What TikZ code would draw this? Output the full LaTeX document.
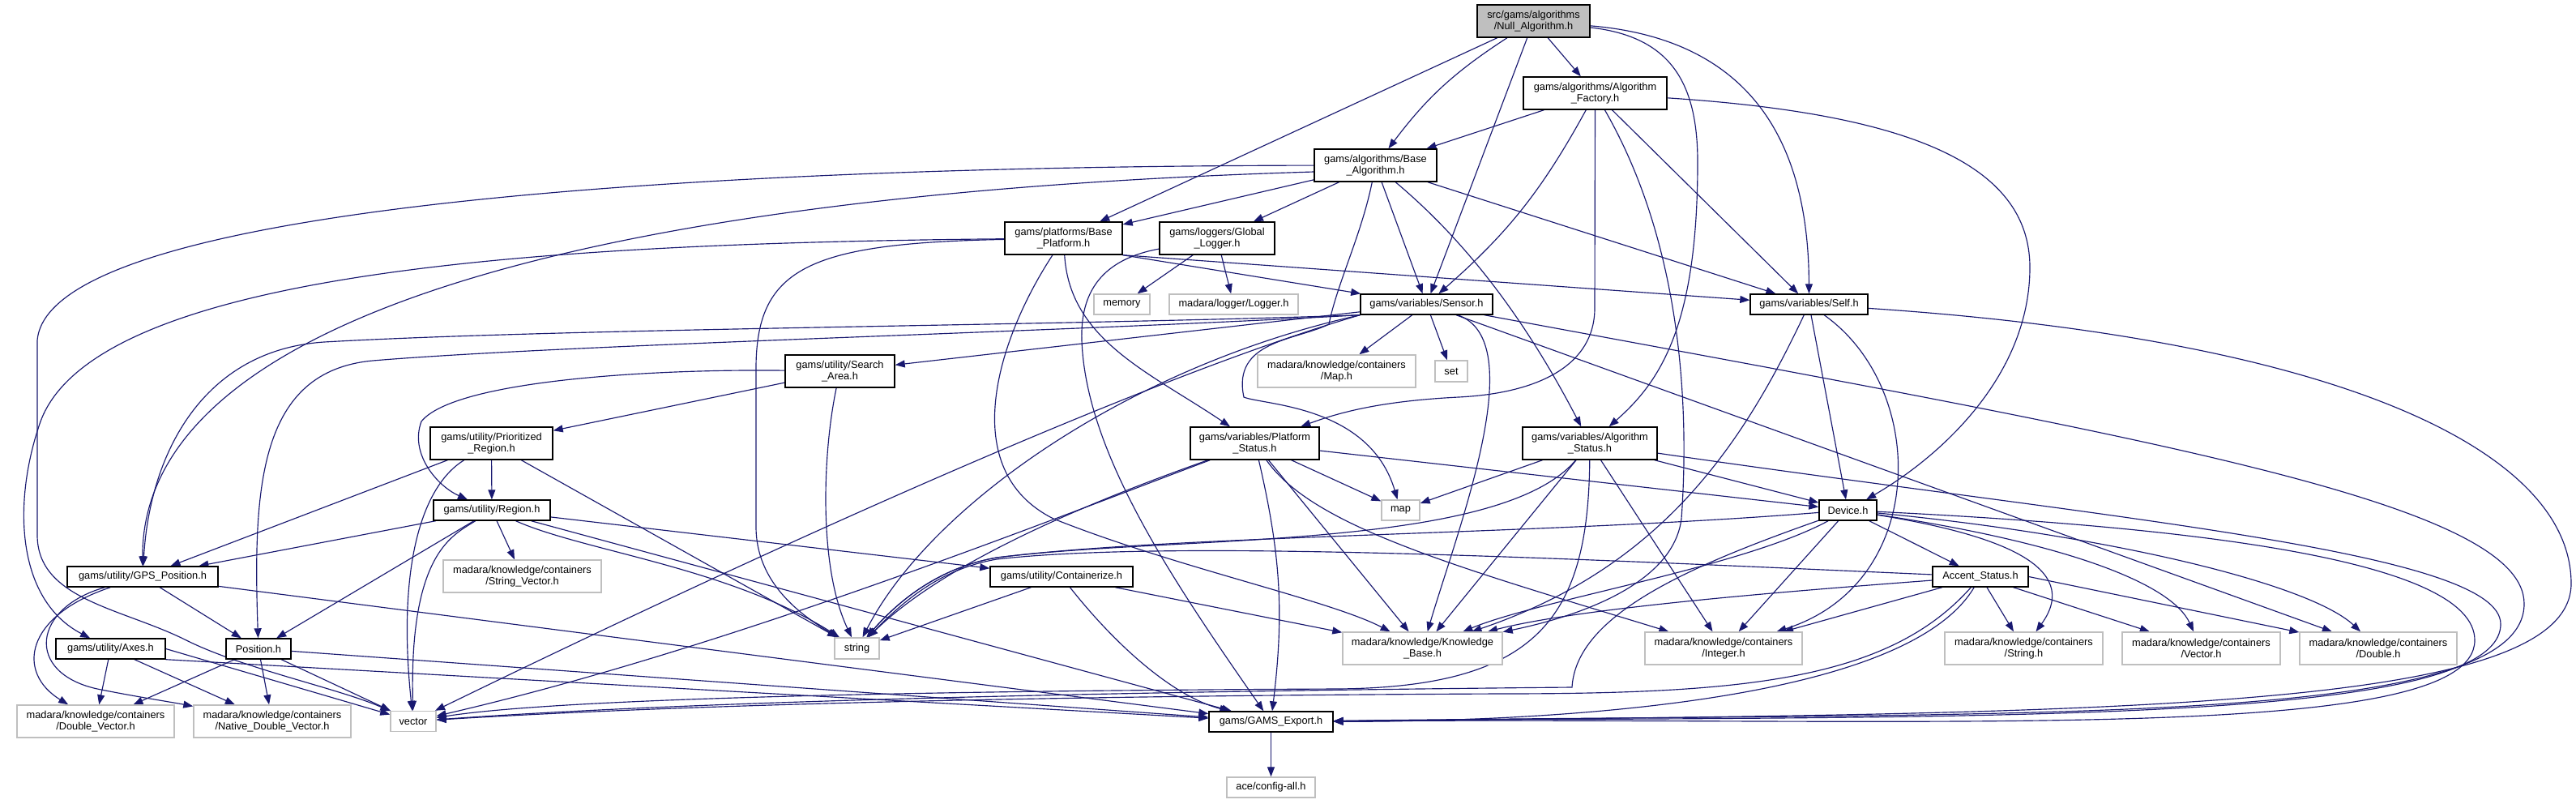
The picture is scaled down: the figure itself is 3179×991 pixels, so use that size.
\documentclass[tikz,border=0pt]{standalone}
\usepackage{fontspec}
\setmainfont{Liberation Sans}
\usetikzlibrary{arrows.meta}
\definecolor{edgeblue}{HTML}{191970}
\definecolor{extgray}{HTML}{BFBFBF}
\definecolor{titlegray}{HTML}{BFBFBF}
\pgfdeclarelayer{bg}
\pgfdeclarelayer{paper}
\pgfsetlayers{paper,bg,main}
\begin{document}
\begin{tikzpicture}[x=1pt,y=-1pt,
  box/.style={draw=black, line width=1.4pt, fill=white, inner sep=0pt, minimum height=25pt, align=center, font=\fontsize{12.8}{14.6}\selectfont},
  tall/.style={minimum height=40pt},
  ext/.style={box, draw=extgray},
  edge/.style={draw=edgeblue, line width=1.15pt, -{Triangle[length=12pt,width=9pt]}},
]
\begin{pgfonlayer}{paper}
\fill[white] (0,0) rectangle (3179,991);
\end{pgfonlayer}
\useasboundingbox (0,0) rectangle (3179,991);

% ---------- nodes ----------
\node[box, tall, fill=titlegray, minimum width=139pt] (null) at (1892.5,26) {src/gams/algorithms\\/Null\_Algorithm.h};
\node[box, tall, minimum width=177pt] (factory) at (1968.5,115) {gams/algorithms/Algorithm\\\_Factory.h};
\node[box, tall, minimum width=151pt] (basealg) at (1697.5,204) {gams/algorithms/Base\\\_Algorithm.h};
\node[box, tall, minimum width=145pt] (baseplat) at (1312.5,294) {gams/platforms/Base\\\_Platform.h};
\node[box, tall, minimum width=142pt] (glogger) at (1502,294) {gams/loggers/Global\\\_Logger.h};
\node[ext, minimum width=69pt] (memory) at (1384.5,375.5) {memory};
\node[ext, minimum width=159pt] (loggerh) at (1522.5,375.5) {madara/logger/Logger.h};
\node[box, minimum width=163pt] (sensor) at (1760.5,375.5) {gams/variables/Sensor.h};
\node[box, minimum width=145pt] (self) at (2232.5,375.5) {gams/variables/Self.h};
\node[box, tall, minimum width=135pt] (search) at (1036.5,458) {gams/utility/Search\\\_Area.h};
\node[ext, tall, minimum width=195pt] (maph) at (1649.5,458) {madara/knowledge/containers\\/Map.h};
\node[ext, minimum width=40pt, minimum height=26pt] (nset) at (1791,458) {set};
\node[box, tall, minimum width=151pt] (prior) at (606.5,547) {gams/utility/Prioritized\\\_Region.h};
\node[box, tall, minimum width=159pt] (platstat) at (1548.5,547) {gams/variables/Platform\\\_Status.h};
\node[box, tall, minimum width=166pt] (algstat) at (1962,547) {gams/variables/Algorithm\\\_Status.h};
\node[box, minimum width=144pt] (region) at (607,629.5) {gams/utility/Region.h};
\node[ext, minimum width=47pt] (nmap) at (1728.5,629.5) {map};
\node[box, minimum width=71pt] (device) at (2280.5,629.5) {Device.h};
\node[box, minimum width=186pt] (gps) at (176,711.5) {gams/utility/GPS\_Position.h};
\node[ext, tall, minimum width=195pt] (strvec) at (644.5,711) {madara/knowledge/containers\\/String\_Vector.h};
\node[box, minimum width=176pt] (contain) at (1310,711.5) {gams/utility/Containerize.h};
\node[box, minimum width=118pt] (accent) at (2444,711.5) {Accent\_Status.h};
\node[box, minimum width=135pt] (axes) at (136.5,800.5) {gams/utility/Axes.h};
\node[box, minimum width=80pt] (position) at (319,800.5) {Position.h};
\node[ext, minimum width=55pt, minimum height=26pt] (nstring) at (1057.5,800) {string};
\node[ext, tall, minimum width=197pt] (kb) at (1755.5,800) {madara/knowledge/Knowledge\\\_Base.h};
\node[ext, tall, minimum width=194pt] (integer) at (2127,800) {madara/knowledge/containers\\/Integer.h};
\node[ext, tall, minimum width=195pt] (stringh) at (2497.5,800) {madara/knowledge/containers\\/String.h};
\node[ext, tall, minimum width=195pt] (vectorh) at (2716.5,800) {madara/knowledge/containers\\/Vector.h};
\node[ext, tall, minimum width=194pt] (doubleh) at (2935,800) {madara/knowledge/containers\\/Double.h};
\node[ext, tall, minimum width=194pt] (dblvec) at (118,890) {madara/knowledge/containers\\/Double\_Vector.h};
\node[ext, tall, minimum width=194pt] (natdbl) at (336,890) {madara/knowledge/containers\\/Native\_Double\_Vector.h};
\node[ext, minimum width=56pt] (nvector) at (510,890) {vector};
\node[box, minimum width=153pt] (gams) at (1568.5,890.5) {gams/GAMS\_Export.h};
\node[ext, minimum width=109pt] (ace) at (1568.5,971.5) {ace/config-all.h};

% ---------- edges ----------
\begin{pgfonlayer}{bg}
% Null_Algorithm
\draw[edge] (null) -- (baseplat);
\draw[edge] (null) to[bend right=10] (basealg);
\draw[edge] (null) -- (sensor);
\draw[edge] (null) -- (factory);
\draw[edge] (null) .. controls (2060,45) and (2095,100) .. (2095,200) .. controls (2095,400) and (2050,470) .. (algstat);
\draw[edge] (null) .. controls (2180,50) and (2232,200) .. (self);
% Algorithm_Factory
\draw[edge] (factory) -- (basealg);
\draw[edge] (factory) to[bend left=10] (sensor);
\draw[edge] (factory) -- (1968,380) .. controls (1968,450) and (1900,485) .. (1800,490) .. controls (1700,495) and (1650,510) .. (platstat);
\draw[edge] (factory) .. controls (2075,300) and (2085,500) .. (2075,640) .. controls (2065,720) and (1950,760) .. (kb);
\draw[edge] (factory) -- (self);
\draw[edge] (factory) .. controls (2350,140) and (2505,200) .. (2505,330) .. controls (2505,460) and (2400,560) .. (device);
% Base_Algorithm
\draw[edge] (basealg) -- (baseplat);
\draw[edge] (basealg) -- (glogger);
\draw[edge] (basealg) -- (sensor);
\draw[edge] (basealg) .. controls (1800,290) and (1875,380) .. (algstat);
\draw[edge] (basealg) -- (self);
\draw[edge] (basealg) .. controls (1680,290) and (1650,350) .. (1640,400) .. controls (1600,420) and (1520,420) .. (1535,490) .. controls (1560,500) and (1690,500) .. (nmap);
\draw[edge] (basealg) .. controls (900,205) and (60,250) .. (46,420) -- (46,660) .. controls (46,740) and (150,750) .. (230,790) .. controls (300,825) and (420,850) .. (nvector);
\draw[edge] ([yshift=-8pt]basealg.west) .. controls (700,240) and (175,400) .. (gps);
% Base_Platform
\draw[edge] (baseplat.south east) -- (sensor);
\draw[edge] (baseplat.south east) -- (self);
\draw[edge] (baseplat) .. controls (1320,420) and (1420,460) .. (platstat);
\draw[edge] (baseplat) .. controls (1230,420) and (1180,580) .. (1300,640) .. controls (1450,700) and (1640,740) .. (kb);
\draw[edge] (baseplat) .. controls (700,300) and (120,330) .. (50,520) .. controls (15,620) and (20,740) .. (axes);
\draw[edge] (baseplat) .. controls (1000,300) and (935,330) .. (933,450) -- (933,650) .. controls (933,720) and (990,760) .. (nstring);
% Global_Logger
\draw[edge] (glogger) -- (memory);
\draw[edge] (glogger) -- (loggerh);
\draw[edge] (glogger) .. controls (1360,320) and (1333,360) .. (1335,420) .. controls (1340,560) and (1450,720) .. (gams);
% Sensor
\draw[edge] (sensor) -- (search);
\draw[edge] (sensor) -- (maph);
\draw[edge] (sensor) -- (nset);
\draw[edge] (sensor.south west) .. controls (1400,450) and (1150,620) .. (nstring);
\draw[edge] (sensor.south west) .. controls (1400,470) and (900,700) .. (nvector);
\draw[edge] (sensor) .. controls (1890,420) and (1800,650) .. (kb);
\draw[edge] (sensor.south west) .. controls (1300,402) and (700,405) .. (400,422) .. controls (250,432) and (185,560) .. (gps);
\draw[edge] (sensor.south west) .. controls (1300,410) and (700,425) .. (460,445) .. controls (320,458) and (312,600) .. (position);
\draw[edge] (sensor) -- (doubleh);
\draw[edge] (sensor) .. controls (2650,540) and (3115,620) .. (3115,745) .. controls (3115,900) and (2500,878) .. (gams);
% Self
\draw[edge] (self) -- (device);
\draw[edge] (self) .. controls (2150,550) and (2050,700) .. (kb);
\draw[edge] (self) .. controls (2380,480) and (2380,720) .. (integer);
\draw[edge] (self) .. controls (2900,420) and (3173,560) .. (3173,720) .. controls (3173,880) and (2600,880) .. (gams);
% Search_Area
\draw[edge] (search) -- (prior);
\draw[edge] (search) .. controls (1015,560) and (1010,700) .. (nstring);
\draw[edge] (search) .. controls (800,455) and (560,470) .. (520,520) .. controls (505,560) and (540,600) .. (region);
% Prioritized_Region
\draw[edge] (prior) -- (region);
\draw[edge] (prior) -- (gps);
\draw[edge] (prior) .. controls (520,600) and (490,700) .. (nvector);
\draw[edge] (prior) -- (nstring);
% Region
\draw[edge] (region) -- (gps);
\draw[edge] (region) -- (position);
\draw[edge] (region) .. controls (560,660) and (505,680) .. (nvector);
\draw[edge] (region) -- (strvec);
\draw[edge] (region) .. controls (720,680) and (900,700) .. (nstring);
\draw[edge] (region) -- (contain);
\draw[edge] (region) -- (gams);
% Platform_Status
\draw[edge] (platstat) -- (device);
\draw[edge] (platstat) -- (nmap);
\draw[edge] (platstat) .. controls (1400,600) and (1180,680) .. (nstring);
\draw[edge] (platstat) .. controls (1300,640) and (900,800) .. (nvector);
\draw[edge] (platstat) to[bend left=10] (gams);
\draw[edge] (platstat) -- (kb);
\draw[edge] (platstat) .. controls (1620,650) and (1800,700) .. (integer);
% Algorithm_Status
\draw[edge] (algstat) -- (device);
\draw[edge] (algstat) -- (nmap);
\draw[edge] (algstat) .. controls (1850,680) and (1450,660) .. (1230,688) .. controls (1160,700) and (1110,740) .. (nstring);
\draw[edge] (algstat) .. controls (1960,760) and (1900,848) .. (1650,850) .. controls (1200,852) and (700,860) .. (nvector);
\draw[edge] (algstat) -- (kb);
\draw[edge] (algstat) -- (integer);
\draw[edge] (algstat) .. controls (2600,640) and (3086,680) .. (3086,770) .. controls (3086,900) and (2400,882) .. (gams);
% Device
\draw[edge] (device) -- (accent);
\draw[edge] (device) .. controls (2470,660) and (2570,700) .. (stringh);
\draw[edge] (device) .. controls (2550,670) and (2680,720) .. (vectorh);
\draw[edge] (device) .. controls (2600,660) and (2850,720) .. (doubleh);
\draw[edge] (device) -- (integer);
\draw[edge] (device) .. controls (2150,700) and (1900,740) .. (kb);
\draw[edge] (device) .. controls (1900,660) and (1450,660) .. (1230,688) .. controls (1160,700) and (1110,740) .. (nstring);
\draw[edge] (device) .. controls (2080,700) and (1945,760) .. (1940,848) .. controls (1500,852) and (900,862) .. (nvector);
\draw[edge] (device) .. controls (2700,650) and (3054,690) .. (3054,790) .. controls (3054,920) and (2400,884) .. (gams);
% Accent_Status
\draw[edge] (accent) -- (stringh);
\draw[edge] (accent) -- (vectorh);
\draw[edge] (accent.east) -- (doubleh);
\draw[edge] (accent) -- (integer);
\draw[edge] (accent) .. controls (2200,730) and (1950,750) .. (kb);
\draw[edge] (accent) .. controls (1950,690) and (1450,665) .. (1230,690) .. controls (1160,702) and (1115,742) .. (nstring);
\draw[edge] (accent) .. controls (2330,840) and (2150,856) .. (1850,856) .. controls (1400,858) and (900,866) .. (nvector);
\draw[edge] (accent) .. controls (2350,870) and (1900,890) .. (gams);
% Containerize
\draw[edge] (contain) -- (nstring);
\draw[edge] (contain) -- (kb);
\draw[edge] (contain) .. controls (1380,800) and (1450,860) .. (gams);
% GPS_Position
\draw[edge] (gps) -- (position);
\draw[edge] (gps) .. controls (30,760) and (20,830) .. (dblvec);
\draw[edge] (gps) .. controls (40,750) and (30,830) .. (120,850) .. controls (170,860) and (210,866) .. (natdbl);
\draw[edge] (gps) -- (gams);
% Axes
\draw[edge] (axes) -- (dblvec);
\draw[edge] (axes) -- (natdbl);
\draw[edge] (axes.east) -- (nvector);
\draw[edge] (axes.south east) -- (gams);
% Position
\draw[edge] (position) -- (dblvec);
\draw[edge] (position) -- (natdbl);
\draw[edge] (position) -- (nvector);
\draw[edge] (position) -- (gams);
% GAMS_Export
\draw[edge] (gams) -- (ace);
\end{pgfonlayer}
\end{tikzpicture}
\end{document}
